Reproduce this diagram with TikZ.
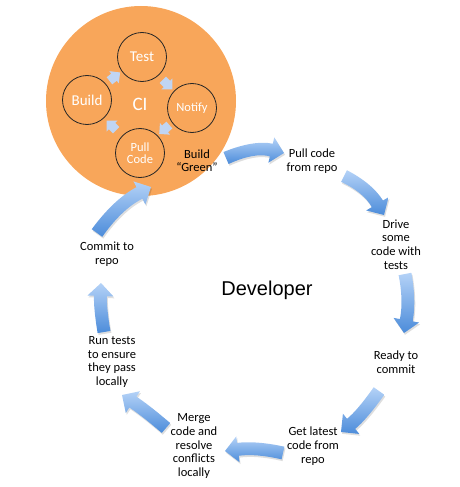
\documentclass[tikz,border=0pt]{standalone}
\usepackage{fontspec}
\setmainfont{Carlito}
\newfontfamily\devfont{Liberation Sans}
\usetikzlibrary{calc,shapes.arrows}
\definecolor{ciorange}{RGB}{248,166,90}
\definecolor{alight}{RGB}{180,210,247}
\definecolor{adark}{RGB}{76,140,218}
\definecolor{smallarrow}{RGB}{192,213,243}
\newcommand\cycarrow[3]{%
 \coordinate (qH) at ($(#3)!13pt!(#2)$);
 \coordinate (qTL) at ($(#1)!6.5pt!90:(#2)$);
 \coordinate (qTR) at ($(#1)!6.5pt!-90:(#2)$);
 \coordinate (qHL) at ($(qH)!6.5pt!90:(#3)$);
 \coordinate (qHR) at ($(qH)!6.5pt!-90:(#3)$);
 \coordinate (qWL) at ($(qH)!13pt!90:(#3)$);
 \coordinate (qWR) at ($(qH)!13pt!-90:(#3)$);
 \coordinate (qCL) at ($(#2)+0.5*(qTL)-0.5*(#1)+0.5*(qHL)-0.5*(qH)$);
 \coordinate (qCR) at ($(#2)+0.5*(qTR)-0.5*(#1)+0.5*(qHR)-0.5*(qH)$);
 \fill[black,opacity=0.13,transform canvas={shift={(1,1.8)}}]
   (qTL) .. controls ($(qTL)!0.667!(qCL)$) and ($(qHL)!0.667!(qCL)$) .. (qHL)
   -- (qWL) -- (#3) -- (qWR) -- (qHR)
   .. controls ($(qHR)!0.667!(qCR)$) and ($(qTR)!0.667!(qCR)$) .. (qTR) -- cycle;
 \shade[top color=alight,bottom color=adark]
   (qTL) .. controls ($(qTL)!0.667!(qCL)$) and ($(qHL)!0.667!(qCL)$) .. (qHL)
   -- (qWL) -- (#3) -- (qWR) -- (qHR)
   .. controls ($(qHR)!0.667!(qCR)$) and ($(qTR)!0.667!(qCR)$) .. (qTR) -- cycle;
}
\tikzset{
  innerc/.style={circle, draw=black!85, line width=0.8pt, minimum size=49pt, inner sep=0pt, text=white, align=center},
  stepbox/.style={align=center, inner sep=0pt, font=\fontsize{12.5}{13.7}\selectfont},
  smallarr/.style={single arrow, fill=smallarrow, draw=none, inner sep=4.3pt, minimum height=13pt, single arrow head extend=3.2pt},
}
\begin{document}
\begin{tikzpicture}[x=1pt,y=-1pt]
\useasboundingbox (0,0) rectangle (459,487);
% CI circle
\fill[ciorange] (141,101) circle (95);
\node[innerc, font=\fontsize{15}{17}\selectfont] (test) at (142,57) {Test};
\node[innerc, font=\fontsize{15}{17}\selectfont] (build) at (87,100) {Build};
\node[innerc, font=\fontsize{12.5}{14}\selectfont] (notify) at (192,108) {Notify};
\node[innerc, font=\fontsize{12.5}{12.5}\selectfont] (pullc) at (140,153) {Pull\\Code};
\node[text=white, font=\fontsize{19}{21}\selectfont] (ci) at (140,104) {CI};
\node[smallarr, rotate=38] (s1) at (113,78) {};
\node[smallarr, rotate=-45] (s2) at (166,83) {};
\node[smallarr, rotate=221] (s3) at (166,128) {};
\node[smallarr, rotate=135] (s4) at (113,127) {};
\node[stepbox, font=\fontsize{12.5}{13}\selectfont] (green) at (197,160.5) {Build\\``Green''};
% steps
\node[stepbox] (pull) at (312,161.5) {Pull code\\from repo};
\node[stepbox] (drive) at (396,244.5) {Drive\\some\\code with\\tests};
\node[stepbox] (ready) at (396,362.5) {Ready to\\commit};
\node[stepbox] (latest) at (313,446) {Get latest\\code from\\repo};
\node[stepbox] (merge) at (194,446) {Merge\\code and\\resolve\\conflicts\\locally};
\node[stepbox] (run) at (112,362) {Run tests\\to ensure\\they pass\\locally};
\node[stepbox] (commit) at (107,254.5) {Commit to\\repo};
\node[font=\devfont\fontsize{20}{22}\selectfont] (dev) at (267,290) {Developer};
% cycle arrows
\coordinate (a1t) at (226,158); \coordinate (a1c) at (254,146); \coordinate (a1p) at (284,153);
\coordinate (a2t) at (344,176); \coordinate (a2c) at (368,188); \coordinate (a2p) at (384,215);
\coordinate (a3t) at (405,274); \coordinate (a3c) at (410,300); \coordinate (a3p) at (404,333);
\coordinate (a4t) at (379,391); \coordinate (a4c) at (362,415); \coordinate (a4p) at (341,432);
\coordinate (a5t) at (283,453); \coordinate (a5c) at (256,447); \coordinate (a5p) at (225,451);
\coordinate (a6t) at (166,428); \coordinate (a6c) at (145,410); \coordinate (a6p) at (122,395);
\coordinate (a7t) at (104,332); \coordinate (a7c) at (100,308); \coordinate (a7p) at (101,283);
\coordinate (a8t) at (97,233); \coordinate (a8c) at (118,204); \coordinate (a8p) at (151,187);
\cycarrow{a1t}{a1c}{a1p}
\cycarrow{a2t}{a2c}{a2p}
\cycarrow{a3t}{a3c}{a3p}
\cycarrow{a4t}{a4c}{a4p}
\cycarrow{a5t}{a5c}{a5p}
\cycarrow{a6t}{a6c}{a6p}
\cycarrow{a7t}{a7c}{a7p}
\cycarrow{a8t}{a8c}{a8p}
\end{tikzpicture}
\end{document}
